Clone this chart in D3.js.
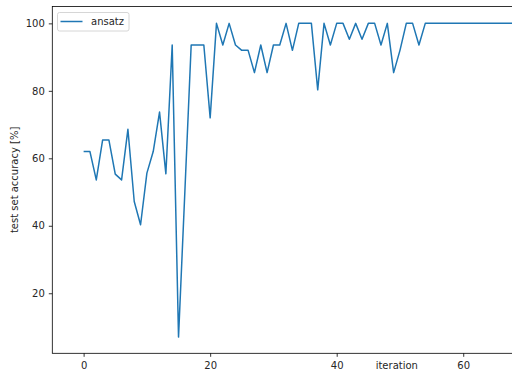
<!DOCTYPE html>
<html>
<head>
<meta charset="utf-8">
<script src="https://cdn.jsdelivr.net/npm/d3@7"></script>
<style>
  html, body { margin: 0; padding: 0; background: #fff; }
  svg { display: block; font-family: "DejaVu Sans", sans-serif; }
</style>
</head>
<body>
<svg id="chart" width="512" height="371"></svg>
<script>
// ---- data ----
const seriesName = "ansatz";
const accuracy = [
  62.0, 62.0, 53.6, 65.4, 65.4, 55.3, 53.6, 68.6, 47.2, 40.3,
  55.6, 62.0, 73.7, 55.4, 93.6, 7.0, 50.0, 93.6, 93.6, 93.6,
  72.0, 100, 93.6, 100, 93.6, 92.0, 92.0, 85.4, 93.6, 85.4,
  93.6, 93.6, 100, 92.0, 100, 100, 100, 80.3, 100, 93.6,
  100, 100, 95.3, 100, 95.3, 100, 100, 93.6, 100, 85.4,
  92.0, 100, 100, 93.6, 100, 100, 100, 100, 100, 100,
  100, 100, 100, 100, 100, 100, 100, 100, 100, 100,
  100, 100, 100, 100, 100, 100, 100, 100, 100, 100,
  100, 100, 100, 100, 100, 100, 100, 100, 100, 100,
  100, 100, 100, 100, 100, 100, 100, 100, 100, 100
];
const xTicks = [0, 20, 40, 60];
const yTicks = [20, 40, 60, 80, 100];
const xLabel = "iteration";
const yLabel = "test set accuracy [%]";

(function () {
  // ---- layout ----
  const pLeft = 52.3, pRight = 741.3, pTop = 6.5, pBottom = 353.3;
  const svg = d3.select("#chart");

  const x = d3.scaleLinear().domain([-4.95, 103.95]).range([pLeft, pRight]);
  const y = d3.scaleLinear().domain([2.2, 105.0]).range([pBottom, pTop]);

  svg.append("defs").append("clipPath").attr("id", "plotclip")
    .append("rect").attr("x", pLeft).attr("y", pTop)
    .attr("width", pRight - pLeft).attr("height", pBottom - pTop);

  // line
  const line = d3.line().x((d, i) => x(i)).y(d => y(d));
  svg.append("path")
    .datum(accuracy)
    .attr("clip-path", "url(#plotclip)")
    .attr("fill", "none")
    .attr("stroke", "#1f77b4")
    .attr("stroke-width", 1.5)
    .attr("stroke-linejoin", "round")
    .attr("d", line);

  // axes
  const xAxis = d3.axisBottom(x).tickValues(xTicks).tickSize(3.5).tickPadding(5).tickSizeOuter(0);
  const yAxis = d3.axisLeft(y).tickValues(yTicks).tickSize(3.5).tickPadding(4).tickSizeOuter(0);

  const gx = svg.append("g").attr("transform", `translate(0,${pBottom})`).call(xAxis);
  const gy = svg.append("g").attr("transform", `translate(${pLeft},0)`).call(yAxis);
  [gx, gy].forEach(g => {
    g.select(".domain").remove();
    g.selectAll(".tick line").attr("stroke", "#000").attr("stroke-width", 0.8);
    g.selectAll(".tick text").attr("fill", "#262626")
      .style("font-family", "DejaVu Sans, sans-serif").style("font-size", "10px");
  });

  // spines
  svg.append("rect")
    .attr("x", pLeft).attr("y", pTop)
    .attr("width", pRight - pLeft).attr("height", pBottom - pTop)
    .attr("fill", "none").attr("stroke", "#000").attr("stroke-width", 0.8);

  // axis labels
  svg.append("text")
    .attr("x", (pLeft + pRight) / 2).attr("y", 369)
    .attr("text-anchor", "middle")
    .attr("fill", "#262626").style("font-size", "10px")
    .text(xLabel);

  svg.append("text")
    .attr("transform", `translate(17.5,${(pTop + pBottom) / 2}) rotate(-90)`)
    .attr("text-anchor", "middle")
    .attr("fill", "#262626").style("font-size", "10px")
    .text(yLabel);

  // legend
  const lg = svg.append("g");
  lg.append("rect")
    .attr("x", 57.5).attr("y", 12.5).attr("width", 71.5).attr("height", 18.5)
    .attr("rx", 2).attr("ry", 2)
    .attr("fill", "#fff").attr("fill-opacity", 0.8)
    .attr("stroke", "#cccccc").attr("stroke-width", 0.8);
  lg.append("line")
    .attr("x1", 60.5).attr("x2", 82.5).attr("y1", 21.5).attr("y2", 21.5)
    .attr("stroke", "#1f77b4").attr("stroke-width", 1.5);
  lg.append("text")
    .attr("x", 91).attr("y", 25.2)
    .attr("fill", "#262626").style("font-size", "10px")
    .text(seriesName);
})();
</script>
</body>
</html>
